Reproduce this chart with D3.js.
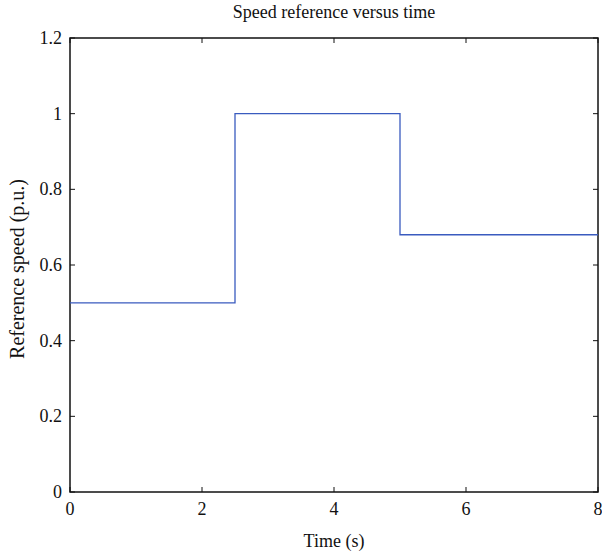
<!DOCTYPE html>
<html><head><meta charset="utf-8">
<script src="https://cdn.jsdelivr.net/npm/d3@7"></script>
<style>body{margin:0;background:#fff}svg{display:block}text{font-family:"Liberation Serif","Times New Roman",serif;fill:#111}</style>
</head><body><svg id="c" width="602" height="554"></svg>
<script>
const times = [0, 2.5, 2.5, 5, 5, 8];
const speeds = [0.5, 0.5, 1.0, 1.0, 0.68, 0.68];
const xTicks = [0, 2, 4, 6, 8];
const yTicks = [0, 0.2, 0.4, 0.6, 0.8, 1, 1.2];
const title = "Speed reference versus time";
const xLabel = "Time (s)";
const yLabel = "Reference speed (p.u.)";

const svg = d3.select("#c");
const L = 70, R = 598, T = 38, B = 492;
const x = d3.scaleLinear().domain([0, 8]).range([L, R]);
const y = d3.scaleLinear().domain([0, 1.2]).range([B, T]);
const fs = 18;

const g = svg.append("g");
g.append("rect").attr("x", L).attr("y", T).attr("width", R - L).attr("height", B - T)
  .attr("fill", "none").attr("stroke", "#111").attr("stroke-width", 1.5);
const tl = 5;
xTicks.forEach(v => {
  g.append("line").attr("x1", x(v)).attr("x2", x(v)).attr("y1", B).attr("y2", B - tl).attr("stroke", "#111");
  g.append("line").attr("x1", x(v)).attr("x2", x(v)).attr("y1", T).attr("y2", T + tl).attr("stroke", "#111");
  g.append("text").attr("x", x(v)).attr("y", B + 23).attr("text-anchor", "middle").attr("font-size", fs).text(d3.format("d")(v));
});
yTicks.forEach(v => {
  g.append("line").attr("y1", y(v)).attr("y2", y(v)).attr("x1", L).attr("x2", L + tl).attr("stroke", "#111");
  g.append("line").attr("y1", y(v)).attr("y2", y(v)).attr("x1", R).attr("x2", R - tl).attr("stroke", "#111");
  g.append("text").attr("x", L - 8).attr("y", y(v) + 6).attr("text-anchor", "end").attr("font-size", fs).text(String(v));
});
const line = d3.line().x((d, i) => x(times[i])).y((d, i) => y(speeds[i]));
g.append("path").datum(speeds).attr("d", line).attr("fill", "none").attr("stroke", "#3a5bbf").attr("stroke-width", 1.3);

svg.append("text").attr("x", (L + R) / 2).attr("y", 18).attr("text-anchor", "middle").attr("font-size", fs).text(title);
svg.append("text").attr("x", (L + R) / 2).attr("y", 547).attr("text-anchor", "middle").attr("font-size", fs).text(xLabel);
svg.append("text").attr("transform", `translate(24,269) rotate(-90)`).attr("text-anchor", "middle").attr("font-size", 20).text(yLabel);
</script></body></html>
